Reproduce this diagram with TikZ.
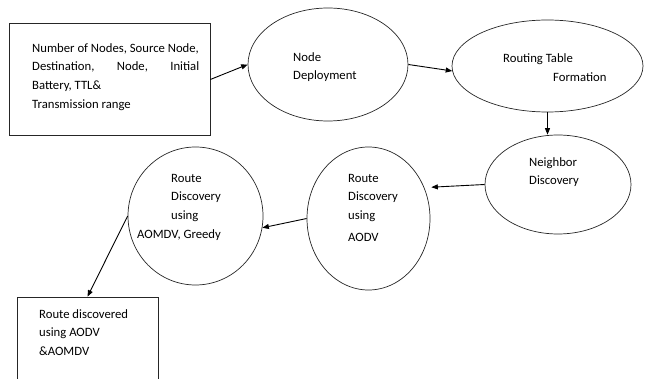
\documentclass[tikz,border=0pt]{standalone}
\usepackage{fontspec}
\setmainfont{Carlito}
\usetikzlibrary{shapes.geometric,arrows.meta}
\begin{document}
\begin{tikzpicture}[x=1pt,y=-1pt,
  outline/.style={draw=black!85,line width=0.7pt,inner sep=0pt},
  oval/.style={outline,ellipse},
  panel/.style={outline,rectangle},
  txt/.style={anchor=north west,inner sep=0pt,align=left,
              font=\fontsize{12.7}{18.7}\selectfont},
  flow/.style={draw=black,line width=0.9pt,-{Triangle[length=6.5pt,width=5pt]}}]
\useasboundingbox (0,0) rectangle (645,379);
\clip (0,0) rectangle (645,379);

% shapes of the flow
\node[panel, minimum width=201pt, minimum height=112pt] (params) at (109.5,79.5) {};
\node[oval, minimum width=160pt, minimum height=113pt] (deploy) at (328,64.5) {};
\node[oval, minimum width=191pt, minimum height=92pt] (table) at (547.5,66) {};
\node[oval, minimum width=146pt, minimum height=99pt] (neigh) at (558,184.5) {};
\node[oval, minimum width=123pt, minimum height=143pt] (aodv) at (368.5,218.5) {};
\node[oval, minimum width=135pt, minimum height=138pt] (aomdv) at (195.5,216) {};
\node[panel, minimum width=141pt, minimum height=100pt] (result) at (87.5,347) {};

% texts
\node[txt] (paramstext) at (32,38.9) {\strut Number of Nodes, Source Node,\\
  \makebox[167pt][s]{Destination,\hfill Node,\hfill Initial}\\
  Battery, TTL\&\\[0.5pt]
  Transmission range};
\node[txt] (deploytext) at (293,47.9) {\strut Node\\Deployment};
\node[txt] (tabletext) at (503,48.9) {\strut Routing Table\\[1pt]\hspace*{50pt}Formation};
\node[txt] (neightext) at (529,152.9) {\strut Neighbor\\Discovery};
\node[txt] (aodvtext) at (348,168.9) {\strut Route\\Discovery\\using\\[3pt]AODV};
\node[txt] (aomdvtext) at (137,168.9) {\strut\hspace*{34pt}Route\\
  \hspace*{34pt}Discovery\\\hspace*{34pt}using\\AOMDV, Greedy};
\node[txt] (resulttext) at (39,304.9) {\strut Route discovered\\using AODV\\\&AOMDV};

% connectors
\draw[flow] (params.east) -- (deploy.west);
\draw[flow] (deploy.east) -- (table.183);
\draw[flow] (table.south) -- (table.south |- neigh.north);
\draw[flow, shorten >=7pt] (neigh.west) -- (aodv.29);
\draw[flow] (aodv.west) -- (aomdv.-10);
\draw[flow] (aomdv.west) -- (result.north);
\end{tikzpicture}
\end{document}
